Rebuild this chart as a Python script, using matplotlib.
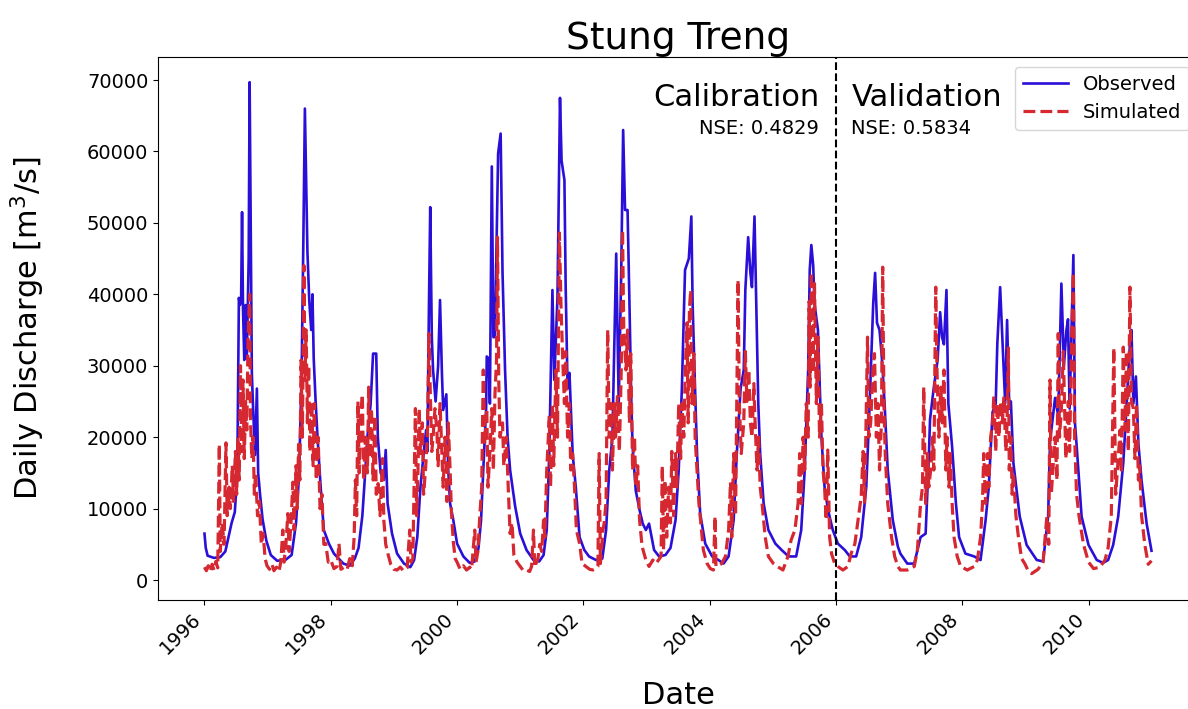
import numpy as np
import pandas as pd
import matplotlib
matplotlib.use("Agg")
import matplotlib.pyplot as plt
import matplotlib.dates as mdates

# Observed discharge (time in decimal years, value in m3/s)
obs_t = [1996.00, 1996.02, 1996.05, 1996.15, 1996.25, 1996.33, 1996.38, 1996.43, 1996.48, 1996.52,
         1996.545, 1996.56, 1996.58, 1996.595, 1996.61, 1996.63, 1996.65, 1996.67, 1996.70, 1996.715,
         1996.73, 1996.75, 1996.77, 1996.80, 1996.83, 1996.85, 1996.88, 1996.92, 1996.98, 1997.05,
         1997.15, 1997.28, 1997.38, 1997.45, 1997.50, 1997.54, 1997.565, 1997.59, 1997.61, 1997.63,
         1997.66, 1997.69, 1997.71, 1997.73, 1997.76, 1997.79, 1997.84, 1997.89, 1997.97, 1998.05,
         1998.20, 1998.30, 1998.38, 1998.44, 1998.50, 1998.53, 1998.58, 1998.63, 1998.67, 1998.72,
         1998.745, 1998.79, 1998.84, 1998.87, 1998.90, 1998.97, 1999.05, 1999.16, 1999.26, 1999.32,
         1999.37, 1999.42, 1999.48, 1999.51, 1999.53, 1999.555, 1999.575, 1999.60, 1999.62, 1999.66,
         1999.70, 1999.73, 1999.76, 1999.78, 1999.83, 1999.86, 1999.89, 1999.94, 2000.00, 2000.10,
         2000.20, 2000.28, 2000.34, 2000.38, 2000.415, 2000.46, 2000.47, 2000.50, 2000.52, 2000.55,
         2000.575, 2000.60, 2000.63, 2000.65, 2000.69, 2000.72, 2000.76, 2000.80, 2000.84, 2000.92,
         2001.00, 2001.10, 2001.21, 2001.30, 2001.37, 2001.42, 2001.46, 2001.51, 2001.54, 2001.59,
         2001.63, 2001.655, 2001.70, 2001.72, 2001.75, 2001.78, 2001.83, 2001.88, 2001.94, 2002.015,
         2002.09, 2002.20, 2002.30, 2002.36, 2002.41, 2002.46, 2002.52, 2002.56, 2002.60, 2002.63,
         2002.66, 2002.70, 2002.73, 2002.76, 2002.78, 2002.83, 2002.89, 2002.94, 2002.99, 2003.04,
         2003.12, 2003.20, 2003.30, 2003.38, 2003.46, 2003.51, 2003.56, 2003.61, 2003.67, 2003.71,
         2003.73, 2003.76, 2003.80, 2003.85, 2003.93, 2004.04, 2004.14, 2004.22, 2004.30, 2004.38,
         2004.43, 2004.49, 2004.54, 2004.565, 2004.61, 2004.645, 2004.67, 2004.71, 2004.74, 2004.77,
         2004.80, 2004.855, 2004.93, 2005.04, 2005.14, 2005.25, 2005.37, 2005.45, 2005.505, 2005.56,
         2005.585, 2005.61, 2005.64, 2005.66, 2005.715, 2005.74, 2005.77, 2005.82, 2005.875, 2005.95,
         2006.03, 2006.14, 2006.22, 2006.32, 2006.40, 2006.48, 2006.53, 2006.59, 2006.62, 2006.65,
         2006.69, 2006.73, 2006.77, 2006.82, 2006.90, 2006.98, 2007.02, 2007.13, 2007.24, 2007.34,
         2007.42, 2007.47, 2007.49, 2007.55, 2007.61, 2007.65, 2007.68, 2007.71, 2007.75, 2007.78,
         2007.84, 2007.90, 2007.95, 2008.05, 2008.19, 2008.29, 2008.37, 2008.42, 2008.48, 2008.53,
         2008.555, 2008.60, 2008.64, 2008.68, 2008.71, 2008.745, 2008.77, 2008.81, 2008.91, 2009.02,
         2009.18, 2009.28, 2009.36, 2009.39, 2009.47, 2009.52, 2009.57, 2009.61, 2009.65, 2009.675,
         2009.70, 2009.76, 2009.785, 2009.81, 2009.89, 2010.00, 2010.13, 2010.23, 2010.31, 2010.39,
         2010.47, 2010.55, 2010.60, 2010.655, 2010.68, 2010.71, 2010.75, 2010.79, 2010.84, 2010.92,
         2010.997]
obs_q = [6500, 4500, 3400, 3100, 3200, 4000, 6000, 8000, 9500, 15000,
         39500, 38500, 39000, 51500, 38000, 30800, 38500, 31000, 45000, 69700,
         52000, 29000, 24000, 17500, 26800, 15000, 12000, 8500, 5500, 3500,
         2700, 2800, 3500, 8000, 15000, 30000, 47000, 66000, 56000, 46000,
         39000, 35000, 40000, 31000, 25000, 20000, 13000, 7000, 5100, 3700,
         2300, 2000, 3000, 4500, 9000, 13000, 20000, 24500, 31700, 31700,
         20000, 15000, 14000, 18200, 10700, 6500, 3700, 2300, 1800, 2800,
         6000, 13000, 18600, 21000, 18000, 38700, 52200, 34000, 29400, 25000,
         30000, 39200, 29000, 23800, 26000, 15400, 10700, 8400, 5100, 3300,
         2400, 2600, 4500, 8400, 15400, 24000, 31300, 31000, 24700, 57900,
         34000, 34000, 49000, 59700, 62500, 43000, 29400, 20000, 15400, 10300,
         6500, 4200, 2800, 2600, 3500, 7000, 17700, 40600, 28000, 39500,
         67500, 58700, 56000, 41000, 26800, 29000, 17700, 13000, 6000, 4200,
         3300, 2800, 3000, 7000, 15400, 20000, 45700, 24700, 43400, 63000,
         51800, 51800, 38700, 24700, 18600, 12500, 9800, 7900, 7000, 7900,
         4200, 3300, 3500, 4500, 8400, 15400, 26800, 43400, 45000, 50900,
         38700, 29400, 17700, 9300, 5100, 3300, 2800, 2300, 3300, 8400,
         17700, 26800, 29400, 40600, 48000, 43000, 41000, 50900, 38000, 24700,
         17700, 10700, 7000, 5100, 4200, 3300, 3300, 7000, 15400, 29400,
         43400, 46900, 44000, 38700, 35000, 28000, 20000, 13000, 9800, 7000,
         5100, 4200, 3300, 3300, 6000, 13000, 23800, 38700, 43000, 36000,
         35000, 30800, 24700, 15400, 8400, 4700, 3700, 2300, 2300, 6000,
         6500, 17000, 22500, 27000, 30800, 37500, 34000, 33000, 40600, 24700,
         18600, 10700, 6000, 3700, 3300, 2800, 8400, 13000, 23500, 24700,
         33000, 41000, 33000, 24700, 36400, 24000, 25000, 16400, 8900, 4900,
         2800, 2600, 8900, 19400, 25500, 23000, 41500, 30000, 35000, 36500,
         24000, 45500, 22000, 19000, 8900, 4900, 2800, 2400, 2800, 4900,
         8900, 16400, 24000, 33000, 35000, 24700, 28500, 19000, 13900, 7900,
         4100]

# Simulated discharge
sim_t = [1996.00, 1996.03, 1996.06, 1996.09, 1996.12, 1996.15, 1996.18, 1996.21, 1996.235, 1996.25,
         1996.28, 1996.31, 1996.34, 1996.36, 1996.39, 1996.41, 1996.44, 1996.46, 1996.49, 1996.51,
         1996.53, 1996.55, 1996.57, 1996.59, 1996.61, 1996.63, 1996.65, 1996.67, 1996.69, 1996.715,
         1996.73, 1996.75, 1996.77, 1996.79, 1996.81, 1996.84, 1996.87, 1996.90, 1996.93, 1996.96,
         1996.99, 1997.03, 1997.07, 1997.10, 1997.14, 1997.18, 1997.21, 1997.24, 1997.26, 1997.29,
         1997.32, 1997.34, 1997.37, 1997.40, 1997.42, 1997.45, 1997.47, 1997.49, 1997.51, 1997.53,
         1997.55, 1997.576, 1997.59, 1997.61, 1997.63, 1997.65, 1997.67, 1997.70, 1997.72, 1997.74,
         1997.77, 1997.80, 1997.83, 1997.86, 1997.89, 1997.92, 1997.96, 1998.00, 1998.05, 1998.10,
         1998.13, 1998.16, 1998.21, 1998.26, 1998.30, 1998.34, 1998.37, 1998.39, 1998.41, 1998.43,
         1998.45, 1998.47, 1998.50, 1998.52, 1998.55, 1998.58, 1998.60, 1998.62, 1998.645, 1998.67,
         1998.70, 1998.72, 1998.75, 1998.78, 1998.82, 1998.84, 1998.87, 1998.91, 1998.95, 1999.00,
         1999.05, 1999.10, 1999.15, 1999.21, 1999.25, 1999.27, 1999.30, 1999.34, 1999.36, 1999.38,
         1999.40, 1999.42, 1999.45, 1999.47, 1999.50, 1999.53, 1999.555, 1999.58, 1999.60, 1999.62,
         1999.65, 1999.68, 1999.70, 1999.73, 1999.76, 1999.78, 1999.81, 1999.84, 1999.86, 1999.89,
         1999.91, 1999.94, 1999.97, 2000.00, 2000.05, 2000.10, 2000.15, 2000.20, 2000.23, 2000.28,
         2000.30, 2000.33, 2000.36, 2000.39, 2000.415, 2000.44, 2000.47, 2000.49, 2000.52, 2000.55,
         2000.575, 2000.60, 2000.625, 2000.64, 2000.66, 2000.68, 2000.72, 2000.74, 2000.76, 2000.78,
         2000.81, 2000.84, 2000.87, 2000.90, 2000.95, 2001.00, 2001.05, 2001.10, 2001.15, 2001.18,
         2001.21, 2001.23, 2001.28, 2001.31, 2001.34, 2001.37, 2001.39, 2001.42, 2001.44, 2001.46,
         2001.48, 2001.51, 2001.53, 2001.565, 2001.59, 2001.62, 2001.645, 2001.67, 2001.70, 2001.72,
         2001.75, 2001.78, 2001.80, 2001.83, 2001.86, 2001.89, 2001.94, 2001.98, 2002.04, 2002.10,
         2002.15, 2002.20, 2002.23, 2002.25, 2002.27, 2002.31, 2002.33, 2002.36, 2002.385, 2002.41,
         2002.44, 2002.46, 2002.49, 2002.51, 2002.54, 2002.57, 2002.60, 2002.62, 2002.64, 2002.675,
         2002.70, 2002.73, 2002.75, 2002.78, 2002.81, 2002.83, 2002.86, 2002.89, 2002.93, 2002.99,
         2003.04, 2003.10, 2003.15, 2003.23, 2003.25, 2003.27, 2003.29, 2003.32, 2003.35, 2003.38,
         2003.40, 2003.43, 2003.46, 2003.48, 2003.51, 2003.54, 2003.56, 2003.59, 2003.615, 2003.64,
         2003.66, 2003.68, 2003.70, 2003.72, 2003.75, 2003.77, 2003.80, 2003.83, 2003.85, 2003.90,
         2003.96, 2004.01, 2004.06, 2004.085, 2004.10, 2004.19, 2004.25, 2004.30, 2004.33, 2004.35,
         2004.38, 2004.41, 2004.45, 2004.47, 2004.50, 2004.54, 2004.565, 2004.59, 2004.62, 2004.645,
         2004.67, 2004.70, 2004.72, 2004.75, 2004.775, 2004.80, 2004.83, 2004.88, 2004.93, 2005.01,
         2005.09, 2005.16, 2005.24, 2005.29, 2005.35, 2005.40, 2005.425, 2005.45, 2005.48, 2005.505,
         2005.53, 2005.56, 2005.575, 2005.59, 2005.61, 2005.635, 2005.66, 2005.69, 2005.715, 2005.74,
         2005.77, 2005.795, 2005.82, 2005.845, 2005.87, 2005.90, 2005.93, 2005.98, 2006.03, 2006.11,
         2006.19, 2006.24, 2006.30, 2006.35, 2006.40, 2006.43, 2006.455, 2006.50, 2006.52, 2006.55,
         2006.585, 2006.61, 2006.64, 2006.665, 2006.69, 2006.72, 2006.74, 2006.76, 2006.78, 2006.82,
         2006.88, 2006.93, 2006.98, 2007.02, 2007.13, 2007.24, 2007.29, 2007.34, 2007.37, 2007.39,
         2007.42, 2007.45, 2007.47, 2007.50, 2007.53, 2007.55, 2007.58, 2007.60, 2007.63, 2007.66,
         2007.685, 2007.71, 2007.74, 2007.76, 2007.79, 2007.81, 2007.84, 2007.87, 2007.92, 2007.975,
         2008.08, 2008.19, 2008.24, 2008.29, 2008.32, 2008.34, 2008.37, 2008.40, 2008.42, 2008.45,
         2008.48, 2008.50, 2008.53, 2008.555, 2008.58, 2008.61, 2008.635, 2008.66, 2008.69, 2008.71,
         2008.73, 2008.745, 2008.77, 2008.79, 2008.81, 2008.85, 2008.89, 2008.94, 2008.99, 2009.05,
         2009.10, 2009.20, 2009.28, 2009.34, 2009.37, 2009.39, 2009.41, 2009.44, 2009.47, 2009.50,
         2009.52, 2009.54, 2009.57, 2009.60, 2009.64, 2009.68, 2009.70, 2009.73, 2009.76, 2009.78,
         2009.81, 2009.85, 2009.92, 2010.00, 2010.08, 2010.18, 2010.26, 2010.31, 2010.36, 2010.40,
         2010.43, 2010.47, 2010.50, 2010.52, 2010.55, 2010.575, 2010.60, 2010.63, 2010.655, 2010.68,
         2010.71, 2010.735, 2010.76, 2010.79, 2010.81, 2010.84, 2010.89, 2010.945, 2010.997]
sim_q = [1800, 1300, 2000, 1200, 2200, 1400, 2600, 1700, 19000, 4000,
         8000, 5000, 19200, 9000, 13000, 10000, 16000, 11000, 18000, 12000,
         20000, 14000, 30000, 18000, 28000, 17000, 25000, 21000, 34000, 40000,
         22000, 17000, 20000, 12000, 15000, 9000, 11000, 5000, 6500, 3000,
         2000, 1500, 2200, 1300, 1800, 1200, 2600, 7000, 2500, 5000,
         9300, 4000, 8000, 13700, 7000, 16000, 10000, 19000, 14000, 30800,
         20000, 44000, 28000, 35000, 22000, 30000, 18000, 25000, 16000, 24700,
         14000, 20000, 10000, 12000, 5000, 5100, 2500, 2800, 1600, 1900,
         5100, 1500, 1800, 1500, 3000, 2000, 6000, 14000, 9000, 25000,
         15000, 22000, 26000, 14000, 20000, 15000, 27000, 17000, 24000, 14000,
         23000, 12000, 13500, 9000, 17000, 8400, 5000, 3500, 2200, 1500,
         1400, 1800, 1300, 1700, 7000, 2500, 3000, 24000, 9000, 15000,
         24000, 17700, 22000, 12000, 15400, 20000, 34500, 24700, 18000, 20000,
         24000, 21000, 16000, 24700, 17700, 13000, 20000, 11000, 22000, 15400,
         9600, 5400, 3000, 2500, 1500, 2000, 1400, 1800, 1500, 7000,
         2500, 4000, 9000, 13000, 29400, 19000, 24000, 13000, 18000, 24000,
         15400, 26000, 30800, 48000, 28000, 20000, 22000, 16000, 18000, 20000,
         13000, 6500, 8000, 3500, 2500, 1900, 1300, 1400, 1200, 1900,
         7000, 1800, 3000, 5000, 4000, 8400, 6000, 15400, 19000, 23000,
         13000, 24700, 16000, 29400, 20000, 48600, 38700, 31700, 24700, 32000,
         20000, 24700, 15400, 17700, 13000, 7000, 5100, 2300, 1900, 1500,
         1400, 1600, 1900, 17700, 2300, 7000, 8000, 11000, 35000, 20000,
         24700, 15400, 24700, 20000, 25700, 18000, 29400, 49000, 35000, 29400,
         35000, 22000, 31700, 15400, 20000, 13000, 16000, 8400, 4700, 2800,
         1900, 2800, 2300, 3300, 16000, 4200, 14000, 6000, 13000, 8000,
         18000, 9000, 17700, 13000, 24700, 17000, 24700, 20000, 29400, 36000,
         22000, 38000, 40600, 24700, 31700, 20000, 15400, 10700, 8900, 4200,
         2300, 1600, 1400, 8900, 1900, 2300, 3300, 7000, 13700, 6000,
         17700, 9000, 42000, 24700, 17700, 22000, 32000, 25000, 29400, 22000,
         20000, 27500, 22000, 15400, 20000, 13000, 10700, 6000, 3300, 2300,
         1800, 1400, 3300, 5600, 7000, 10700, 17700, 10700, 20000, 15400,
         24700, 20000, 39000, 27000, 43000, 29000, 41500, 24700, 34000, 20000,
         24700, 15400, 13000, 8400, 18200, 6000, 3700, 2300, 1900, 1400,
         1900, 3700, 5100, 8400, 11700, 18000, 10700, 34000, 20000, 22000,
         29400, 31700, 20000, 24700, 15400, 22000, 43800, 24700, 17700, 10700,
         6000, 3300, 1900, 1400, 1400, 1900, 4200, 10700, 13000, 27000,
         10700, 17700, 13000, 15400, 20000, 15400, 41000, 29400, 20000, 27000,
         22000, 29400, 15400, 20000, 13000, 17700, 10700, 6000, 3300, 1900,
         1400, 1900, 2800, 6000, 10700, 17700, 10700, 17700, 13000, 20000,
         22000, 25700, 18000, 24700, 20000, 25000, 22000, 25700, 18000, 22000,
         32500, 15400, 20000, 12000, 15000, 9000, 6000, 3000, 2300, 1200,
         900, 1500, 2500, 8900, 5000, 28000, 12000, 16000, 20000, 14000,
         34500, 20000, 24000, 32000, 17000, 25000, 18000, 33000, 43000, 20000,
         12000, 8900, 5000, 2500, 1600, 1800, 2800, 4500, 8900, 32500,
         12000, 17000, 21000, 15000, 32600, 21000, 32000, 18000, 41000, 25000,
         24000, 17000, 24700, 14000, 16000, 9000, 5000, 2200, 2700]

split_year = 2006
nse_cal = 0.4829
nse_val = 0.5834


def to_dates(t):
    # decimal year -> timestamp
    t = np.asarray(t)
    return pd.Timestamp("1996-01-01") + pd.to_timedelta((t - 1996) * 365.25, unit="D")


obs_dates = to_dates(obs_t)
sim_dates = to_dates(sim_t)

fig = plt.figure(figsize=(11.88, 7.09), dpi=100)
ax = fig.add_axes([0.133, 0.1537, 0.8763, 0.7659])

ax.plot(obs_dates, obs_q, color="#2a0fd8", linewidth=1.9, label="Observed")
ax.plot(sim_dates, sim_q, color="#d62831", linewidth=2.3, linestyle="--", label="Simulated")

# Calibration / validation split
split = pd.Timestamp(f"{split_year}-01-01")
ax.axvline(split, color="black", linestyle="--", linewidth=1.5)

ax.annotate("Calibration", xy=(split, 0.925), xycoords=("data", "axes fraction"),
            xytext=(-12, 0), textcoords="offset points", ha="right", va="center", fontsize=22)
ax.annotate(f"NSE: {nse_cal}", xy=(split, 0.868), xycoords=("data", "axes fraction"),
            xytext=(-12, 0), textcoords="offset points", ha="right", va="center", fontsize=14)
ax.annotate("Validation", xy=(split, 0.925), xycoords=("data", "axes fraction"),
            xytext=(11, 0), textcoords="offset points", ha="left", va="center", fontsize=22)
ax.annotate(f"NSE: {nse_val}", xy=(split, 0.868), xycoords=("data", "axes fraction"),
            xytext=(11, 0), textcoords="offset points", ha="left", va="center", fontsize=14)

ax.set_xlim(to_dates([1995.264])[0], to_dates([2011.75])[0])
ax.set_ylim(-2800, 73220)
ax.xaxis.set_major_locator(mdates.YearLocator(2))
ax.xaxis.set_major_formatter(mdates.DateFormatter("%Y"))
plt.setp(ax.get_xticklabels(), rotation=45, ha="right")
ax.tick_params(labelsize=14)

ax.set_title("Stung Treng", fontsize=27)
ax.set_xlabel("Date", fontsize=22)
ax.set_ylabel("Daily Discharge [m$^3$/s]", fontsize=22)
ax.yaxis.set_label_coords(-0.107, 0.5)
ax.xaxis.set_label_coords(0.5, -0.15)
ax.legend(loc="upper right", fontsize=14, handlelength=2.3)

fig.savefig("out.png", dpi=100)
